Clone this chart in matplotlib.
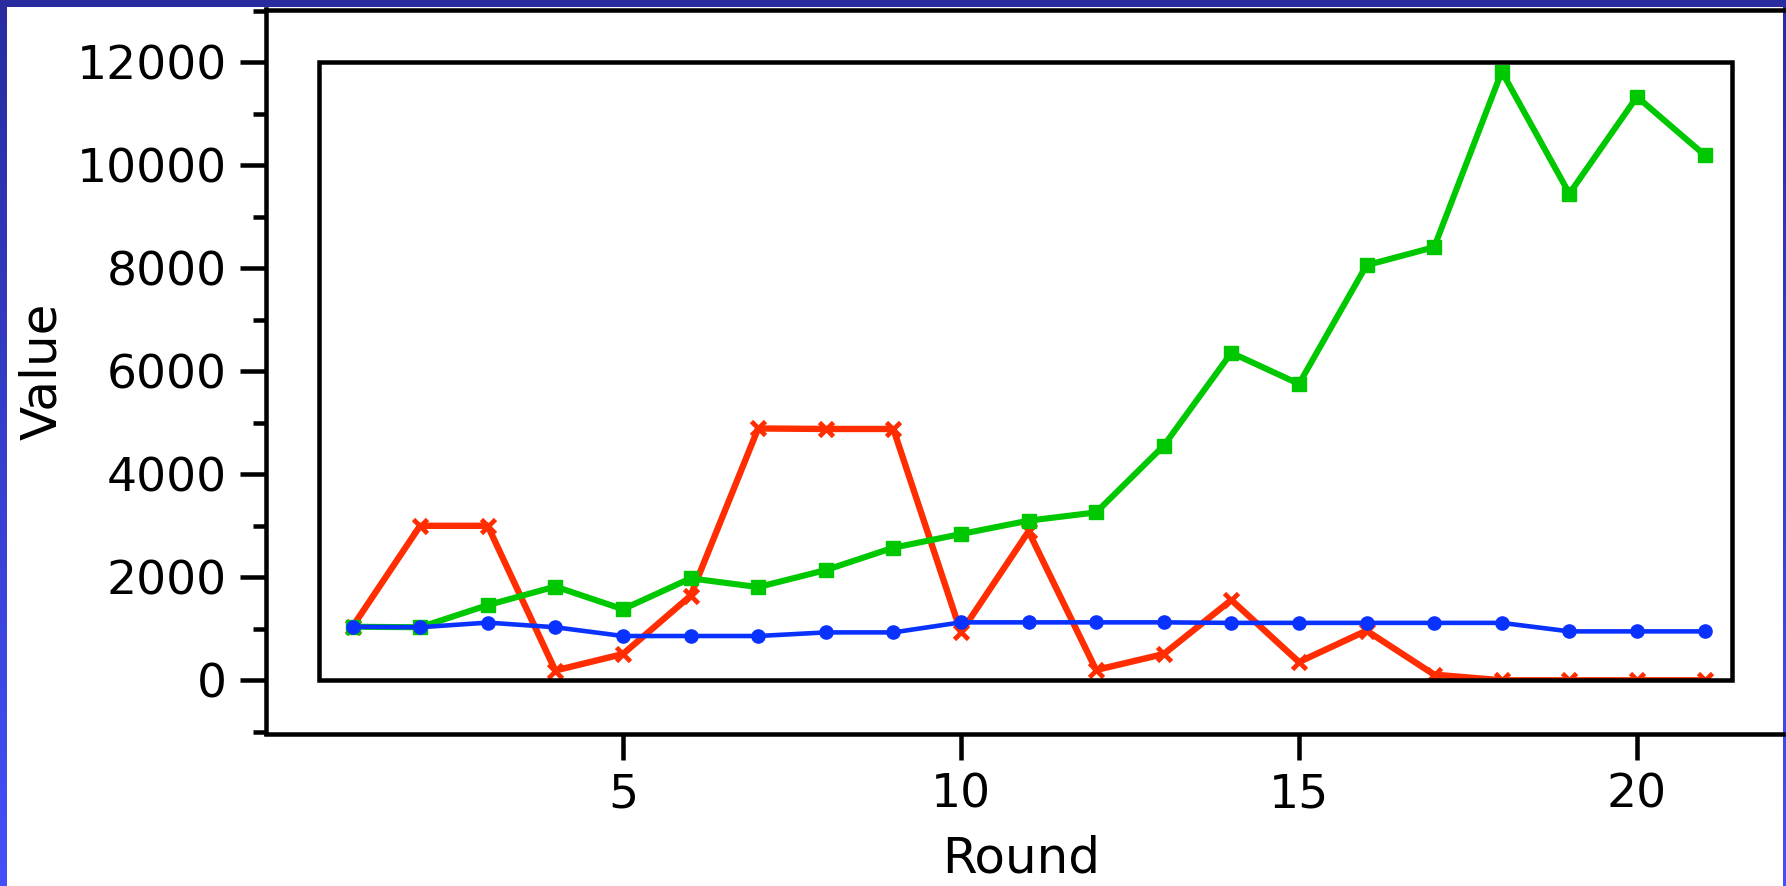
import numpy as np
import matplotlib
matplotlib.use("Agg")
import matplotlib.pyplot as plt
from matplotlib.patches import Rectangle
from matplotlib.ticker import MultipleLocator

# Data
rounds = list(range(1, 22))
green_vals = [1040, 1030, 1460, 1820, 1380, 1980, 1810, 2140, 2575, 2840, 3100,
              3260, 4555, 6360, 5755, 8060, 8410, 11820, 9450, 11330, 10200]
red_vals = [1040, 3000, 3000, 190, 510, 1640, 4890, 4880, 4880, 930, 2890,
            200, 510, 1560, 355, 965, 110, 0, 0, 0, 0]
blue_vals = [1040, 1030, 1120, 1030, 860, 860, 860, 930, 930, 1125, 1125,
             1125, 1125, 1115, 1115, 1115, 1115, 1115, 950, 950, 950]
x_ticks = [5, 10, 15, 20]
y_ticks = [0, 2000, 4000, 6000, 8000, 10000, 12000]

W, H = 1786, 886
plt.rcParams["font.family"] = ["DejaVu Sans"]

fig = plt.figure(figsize=(W / 100, H / 100), dpi=100)

# blue gradient frame behind a white panel
bg = fig.add_axes([0, 0, 1, 1], zorder=-10)
grad = np.linspace(0, 1, 256)[:, None, None]
top_c = np.array([40, 44, 158]) / 255
bot_c = np.array([68, 80, 250]) / 255
bg.imshow(top_c + (bot_c - top_c) * grad, aspect="auto", extent=[0, 1, 0, 1])
bg.set_axis_off()
fig.patches.append(Rectangle((7 / W, 0), (1783 - 7) / W, (H - 7) / H,
                             transform=fig.transFigure, facecolor="white",
                             edgecolor="none", zorder=-5))

# main axes
left, right, top, bottom = 265.5, 1783, 9.5, 733.5
ax = fig.add_axes([left / W, 1 - bottom / H, (right - left) / W, (bottom - top) / H])
ax.set_facecolor("none")
ax.set_xlim(-0.287, 22.16)
ax.set_ylim(-1033, 13025)

lw_frame = 3.25
for side in ["left", "top", "bottom"]:
    ax.spines[side].set_linewidth(lw_frame)
ax.spines["right"].set_visible(False)

inner = Rectangle((0.5, 0), 20.9, 12000, fill=False, edgecolor="black",
                  linewidth=lw_frame, zorder=5)
ax.add_patch(inner)

l_red, = ax.plot(rounds, red_vals, color="#ff2d00", linewidth=4.6, marker="x",
                 markersize=9.5, markeredgewidth=3.4, zorder=2)
l_green, = ax.plot(rounds, green_vals, color="#00c800", linewidth=4.4, marker="s",
                   markersize=10, zorder=3)
l_blue, = ax.plot(rounds, blue_vals, color="#0a32ff", linewidth=3.3, marker="o",
                  markersize=9.5, zorder=4)
for ln in (l_red, l_green, l_blue):
    ln.set_clip_path(inner)

ax.set_xticks(x_ticks)
ax.set_yticks(y_ticks)
ax.yaxis.set_minor_locator(MultipleLocator(1000))
ax.tick_params(axis="both", which="major", length=19, width=lw_frame,
               labelsize=34, pad=9)
ax.tick_params(axis="y", which="minor", length=9.5, width=lw_frame)
ax.tick_params(axis="x", which="minor", bottom=False)

ax.set_xlabel("Round", fontsize=36, va="center")
ax.xaxis.set_label_coords((1021 - left) / (right - left), -(859 - bottom) / (bottom - top))
ax.set_ylabel("Value", fontsize=36, va="center")
ax.yaxis.set_label_coords(-(left - 42) / (right - left), 0.5)

fig.savefig("out.png", dpi=100)
